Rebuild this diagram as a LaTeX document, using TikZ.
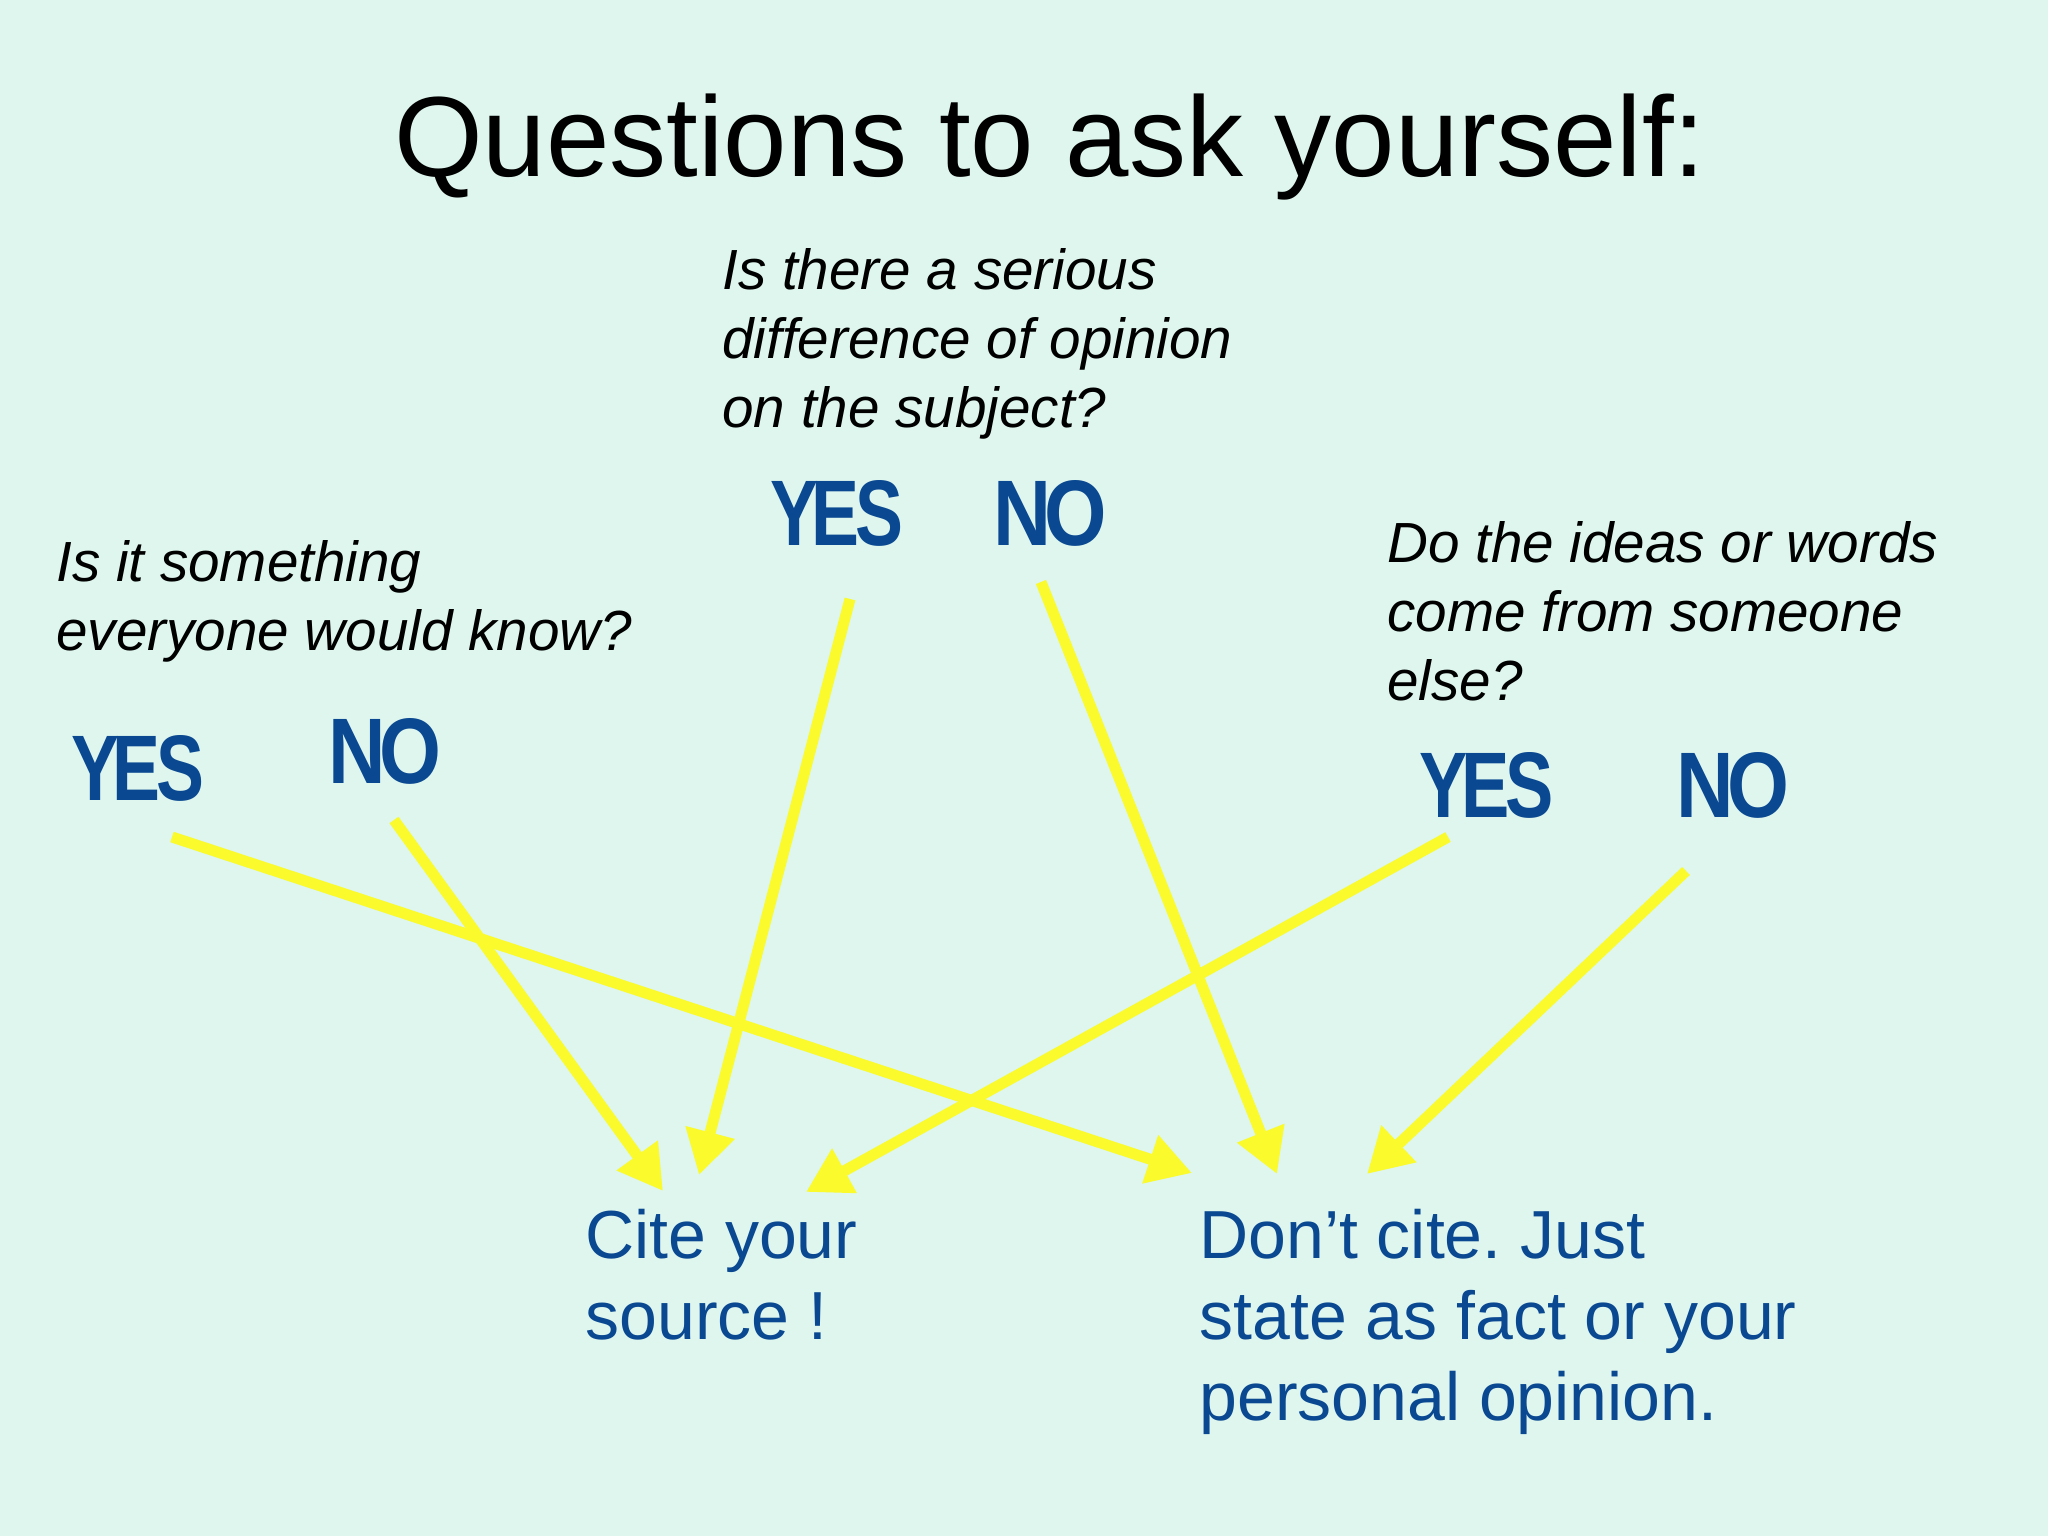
\documentclass[tikz,border=0pt]{standalone}
\usepackage{fontspec}
\usepackage{graphicx}
\setmainfont{Liberation Sans}
\usetikzlibrary{arrows.meta}
\frenchspacing
\definecolor{bgmint}{RGB}{222,246,238}
\definecolor{navy}{RGB}{10,72,145}
\definecolor{ylw}{RGB}{250,250,45}
\newcommand{\yesword}{Y\kern-0.09em E\kern-0.06em S}
\newcommand{\noword}{N\kern-0.08em O}
\begin{document}
\begin{tikzpicture}[x=0.5pt,y=-0.5pt,
  question/.style={font=\fontsize{28.3pt}{34.5pt}\selectfont\itshape, align=left, anchor=base west, inner sep=0pt},
  answer/.style={text=navy, inner sep=0pt, anchor=south west, font=\bfseries},
  verdict/.style={text=navy, font=\fontsize{34pt}{40.5pt}\selectfont, align=left, anchor=base west, inner sep=0pt},
  arr/.style={draw=ylw, line width=5.5pt, -{Triangle[length=22pt,width=24pt]}}]
\fill[bgmint] (0,0) rectangle (2048,1536);
\useasboundingbox (0,0) rectangle (2048,1536);

% title
\node[font=\fontsize{57pt}{68pt}\selectfont, anchor=base, inner sep=0pt] (title) at (1050,176) {Questions to ask yourself:};

% questions (anchor = baseline of last line)
\node[question] (q1) at (56,650) {Is it something\\everyone would know?};
\node[question] (q2) at (722,427) {Is there a serious\\difference of opinion\\on the subject?};
\node[question] (q3) at (1387,700) {Do the ideas or words\\come from someone\\else?};

% answers
\node[answer] (lYes) at (71,802) {\resizebox{66.5pt}{32.5pt}{\yesword}};
\node[answer] (lNo) at (328,785) {\resizebox{56.5pt}{32.5pt}{\noword}};
\node[answer] (mYes) at (770,547) {\resizebox{66.5pt}{32.5pt}{\yesword}};
\node[answer] (mNo) at (993,547) {\resizebox{57pt}{32.5pt}{\noword}};
\node[answer] (rYes) at (1419,819) {\resizebox{67pt}{32.5pt}{\yesword}};
\node[answer] (rNo) at (1676,819) {\resizebox{56.5pt}{32.5pt}{\noword}};

% verdicts (anchor = baseline of last line)
\node[verdict] (cite) at (585,1339) {Cite your\\source !};
\node[verdict] (dont) at (1199,1420) {Don’t cite. Just\\state as fact or your\\personal opinion.};

% arrow end points
\coordinate (lYesS) at (172,837);
\coordinate (lNoS) at (394,820);
\coordinate (mYesS) at (850,599);
\coordinate (mNoS) at (1041,582);
\coordinate (rYesS) at (1448,837);
\coordinate (rNoS) at (1686,871);
\coordinate (citeA) at (663,1191);
\coordinate (citeB) at (699,1175);
\coordinate (citeC) at (806,1192);
\coordinate (dontA) at (1192,1173);
\coordinate (dontB) at (1277,1174);
\coordinate (dontC) at (1367,1174);

\draw[arr] (lYesS) -- (dontA);
\draw[arr] (lNoS) -- (citeA);
\draw[arr] (mYesS) -- (citeB);
\draw[arr] (mNoS) -- (dontB);
\draw[arr] (rYesS) -- (citeC);
\draw[arr] (rNoS) -- (dontC);
\end{tikzpicture}
\end{document}
